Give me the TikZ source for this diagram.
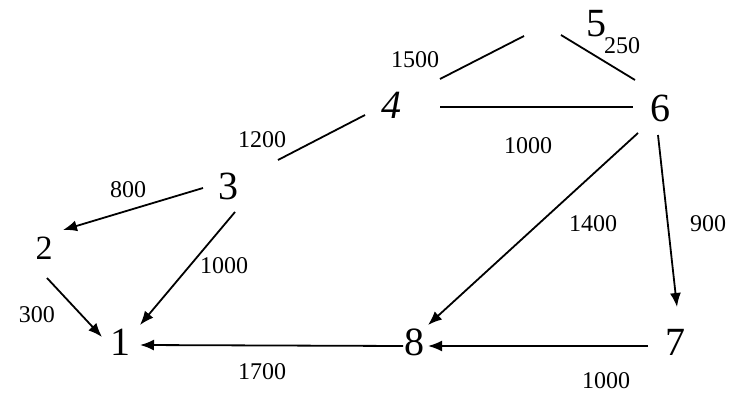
\documentclass[tikz,border=0pt]{standalone}
\usepackage{fontspec}
\setmainfont{Liberation Serif}
\usetikzlibrary{arrows.meta,calc}
\tikzset{
  vertex/.style={inner sep=0pt,font=\fontsize{40}{40}\selectfont},
  weight/.style={inner sep=0pt,font=\fontsize{24}{24}\selectfont},
  edge/.style={line width=1.8pt},
  arc/.style={line width=1.8pt,-{Latex[length=14pt,width=11pt]}}
}
\begin{document}
\begin{tikzpicture}[x=1pt,y=-1pt]
\useasboundingbox (0,0) rectangle (734,393);
% vertices
\node[vertex] (n1) at (120,342) {1};
\node[vertex,font=\fontsize{34}{34}\selectfont] (n2) at (44,248) {2};
\node[vertex] (n3) at (228,186) {3};
\node[vertex,font=\fontsize{40}{40}\selectfont\itshape] (n4) at (391,105) {4};
\node[vertex] (n5) at (596,24) {5};
\node[vertex] (n6) at (660,108) {6};
\node[vertex] (n7) at (675,342) {7};
\node[vertex] (n8) at (414,342) {8};
% undirected edges
\draw[edge] ($(n4)+(49,-26)$) -- ($(n5)+(-72,12)$);
\draw[edge] ($(n5)+(-35,11)$) -- ($(n6)+(-25,-28)$);
\draw[edge] ($(n4)+(49,2)$) -- ($(n6)+(-27,-1)$);
\draw[edge] ($(n3)+(50,-26)$) -- ($(n4)+(-26,10)$);
% directed edges
\draw[arc] ($(n3)+(-25,2)$) -- ($(n2)+(19,-18)$);
\draw[arc] ($(n3)+(7,26)$) -- ($(n1)+(20,-17)$);
\draw[arc] ($(n2)+(3,30)$) -- ($(n1)+(-18,-5)$);
\draw[arc] ($(n8)+(-11,4)$) -- ($(n1)+(20,3)$);
\draw[arc] ($(n7)+(-27,4)$) -- ($(n8)+(14,4)$);
\draw[arc] ($(n6)+(-22,25)$) -- ($(n8)+(14,-17)$);
\draw[arc] ($(n6)+(-2,27)$) -- ($(n7)+(2,-35)$);
% weights
\node[weight] (w45) at (415,60) {1500};
\node[weight] (w56) at (622,46) {250};
\node[weight] (w34) at (262,140) {1200};
\node[weight] (w46) at (528,146) {1000};
\node[weight] (w32) at (128,190) {800};
\node[weight] (w68) at (593,224) {1400};
\node[weight] (w67) at (708,224) {900};
\node[weight] (w31) at (224,266) {1000};
\node[weight] (w21) at (37,315) {300};
\node[weight] (w81) at (262,372) {1700};
\node[weight] (w78) at (606,381) {1000};
\end{tikzpicture}
\end{document}
